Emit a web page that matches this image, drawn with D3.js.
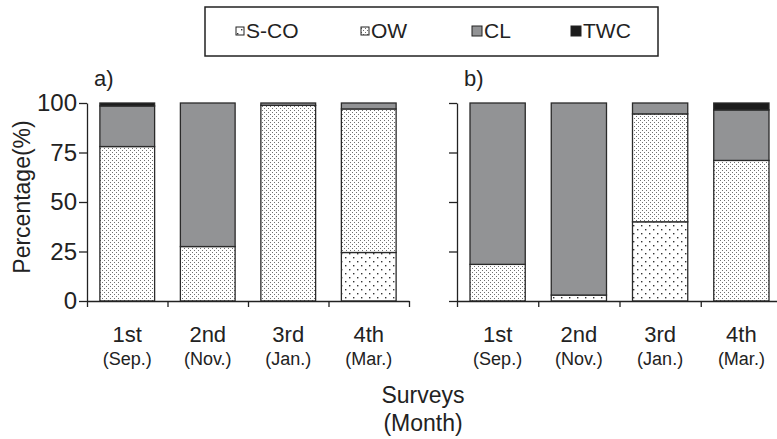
<html>
<head>
<script src="https://d3js.org/d3.v7.min.js"></script>
<style>
body { margin:0; background:#fff; }
text { font-family: "Liberation Sans", Arial, Helvetica, sans-serif; fill:#222; }
</style>
</head>
<body>
<script>
// data
var surveys = ["1st", "2nd", "3rd", "4th"];
var months = ["(Sep.)", "(Nov.)", "(Jan.)", "(Mar.)"];
var keys = ["S-CO", "OW", "CL", "TWC"];
var yTicks = [0, 25, 50, 75, 100];

// panel a)
var scoA = [0, 0, 0, 24.5];
var owA  = [78, 27.5, 98.8, 72.5];
var clA  = [20.5, 72.5, 1.2, 3];
var twcA = [1.5, 0, 0, 0];

// panel b)
var scoB = [0, 3, 40, 0];
var owB  = [18.5, 0, 54.5, 71];
var clB  = [81.5, 97, 5.5, 25.5];
var twcB = [0, 0, 0, 3.5];

var width = 777, height = 439;
var svg = d3.select("body").append("svg")
    .attr("width", width)
    .attr("height", height);

var defs = svg.append("defs");
// fine dots (OW)
var p1 = defs.append("pattern").attr("id", "pOW")
    .attr("patternUnits", "userSpaceOnUse").attr("width", 4).attr("height", 4);
p1.append("rect").attr("width", 4).attr("height", 4).attr("fill", "#fff");
p1.append("rect").attr("x", 0).attr("y", 0).attr("width", 1).attr("height", 1).attr("fill", "#707070");
p1.append("rect").attr("x", 2).attr("y", 2).attr("width", 1).attr("height", 1).attr("fill", "#707070");
// sparse dots (S-CO)
var p2 = defs.append("pattern").attr("id", "pSCO")
    .attr("patternUnits", "userSpaceOnUse").attr("width", 8).attr("height", 8);
p2.append("rect").attr("width", 8).attr("height", 8).attr("fill", "#fff");
p2.append("rect").attr("x", 1).attr("y", 1).attr("width", 1.4).attr("height", 1.4).attr("fill", "#333");
p2.append("rect").attr("x", 5).attr("y", 5).attr("width", 1.4).attr("height", 1.4).attr("fill", "#333");

var z = d3.scaleOrdinal().domain(keys)
    .range(["url(#pSCO)", "url(#pOW)", "#929395", "#1c1c1c"]);

var y = d3.scaleLinear().domain([0, 100]).range([301, 103]);

function rows(sco, ow, cl, twc) {
  return surveys.map(function(s, i) {
    return {survey: s, "S-CO": sco[i], "OW": ow[i], "CL": cl[i], "TWC": twc[i]};
  });
}

function panel(data, x0, x1, label, showY) {
  var g = svg.append("g");
  var x = d3.scaleBand().domain(surveys).range([x0, x1])
      .paddingInner(0.32).paddingOuter(0.16);
  var xl = d3.scaleLinear().domain([0, 4]).range([x0, x1]);

  g.append("g")
      .selectAll("g")
      .data(d3.stack().keys(keys)(data))
      .enter().append("g")
        .attr("fill", function(d) { return z(d.key); })
      .selectAll("rect")
      .data(function(d) { return d.filter(function(e) { return e[1] - e[0] > 0; }); })
      .enter().append("rect")
        .attr("x", function(d) { return x(d.data.survey); })
        .attr("y", function(d) { return y(d[1]); })
        .attr("height", function(d) { return y(d[0]) - y(d[1]); })
        .attr("width", x.bandwidth())
        .attr("stroke", "#2a2a2a")
        .attr("stroke-width", 1.3);

  var ax = g.append("g")
      .attr("transform", "translate(0," + y(0) + ")")
      .call(d3.axisBottom(xl).tickValues([0, 1, 2, 3, 4]).tickSize(6).tickSizeOuter(0).tickFormat(""));
  ax.selectAll("path,line").attr("stroke", "#222").attr("stroke-width", 1.3);

  var ay = g.append("g")
      .attr("transform", "translate(" + x0 + ",0)")
      .call(d3.axisLeft(y).tickValues(yTicks).tickSize(8).tickSizeOuter(0)
        .tickFormat(showY ? d3.format("d") : ""));
  ay.selectAll("path,line").attr("stroke", "#222").attr("stroke-width", 1.3);
  ay.selectAll("text")
      .attr("font-size", 24)
      .attr("font-family", "Liberation Sans, Arial, sans-serif")
      .attr("fill", "#222")
      .attr("x", -10);

  g.selectAll(".s1").data(surveys).enter().append("text")
      .attr("x", function(d) { return x(d) + x.bandwidth() / 2; })
      .attr("y", 342)
      .attr("text-anchor", "middle")
      .attr("font-size", 22)
      .text(function(d) { return d; });
  g.selectAll(".s2").data(months).enter().append("text")
      .attr("x", function(d, i) { return x(surveys[i]) + x.bandwidth() / 2; })
      .attr("y", 365)
      .attr("text-anchor", "middle")
      .attr("font-size", 18)
      .text(function(d) { return d; });

  g.append("text")
      .attr("x", x0 + 7).attr("y", 86)
      .attr("font-size", 22)
      .text(label);
}

panel(rows(scoA, owA, clA, twcA), 87, 409, "a)", true);
panel(rows(scoB, owB, clB, twcB), 457, 782, "b)", false);

svg.append("text")
    .attr("transform", "translate(30,197) rotate(-90)")
    .attr("text-anchor", "middle")
    .attr("font-size", 23)
    .text("Percentage(%)");

svg.append("text").attr("x", 423).attr("y", 403)
    .attr("text-anchor", "middle").attr("font-size", 23).text("Surveys");
svg.append("text").attr("x", 423).attr("y", 431)
    .attr("text-anchor", "middle").attr("font-size", 23).text("(Month)");

// legend
svg.append("rect")
    .attr("x", 205).attr("y", 7).attr("width", 453).attr("height", 49)
    .attr("fill", "none").attr("stroke", "#222").attr("stroke-width", 1.5);

var legendX = [236, 361, 472, 571];
var legendSize = [8, 8, 10, 10];
var legend = svg.append("g")
    .selectAll("g")
    .data(keys)
    .enter().append("g")
    .attr("transform", function(d, i) { return "translate(" + legendX[i] + ",0)"; });
legend.append("rect")
    .attr("x", 0)
    .attr("y", function(d, i) { return 31 - legendSize[i] / 2; })
    .attr("width", function(d, i) { return legendSize[i]; })
    .attr("height", function(d, i) { return legendSize[i]; })
    .attr("fill", z)
    .attr("stroke", "#222")
    .attr("stroke-width", 1);
legend.append("text")
    .attr("x", function(d, i) { return legendSize[i] + 2; })
    .attr("y", 38)
    .attr("font-size", 21)
    .text(function(d) { return d; });
</script>
</body>
</html>
